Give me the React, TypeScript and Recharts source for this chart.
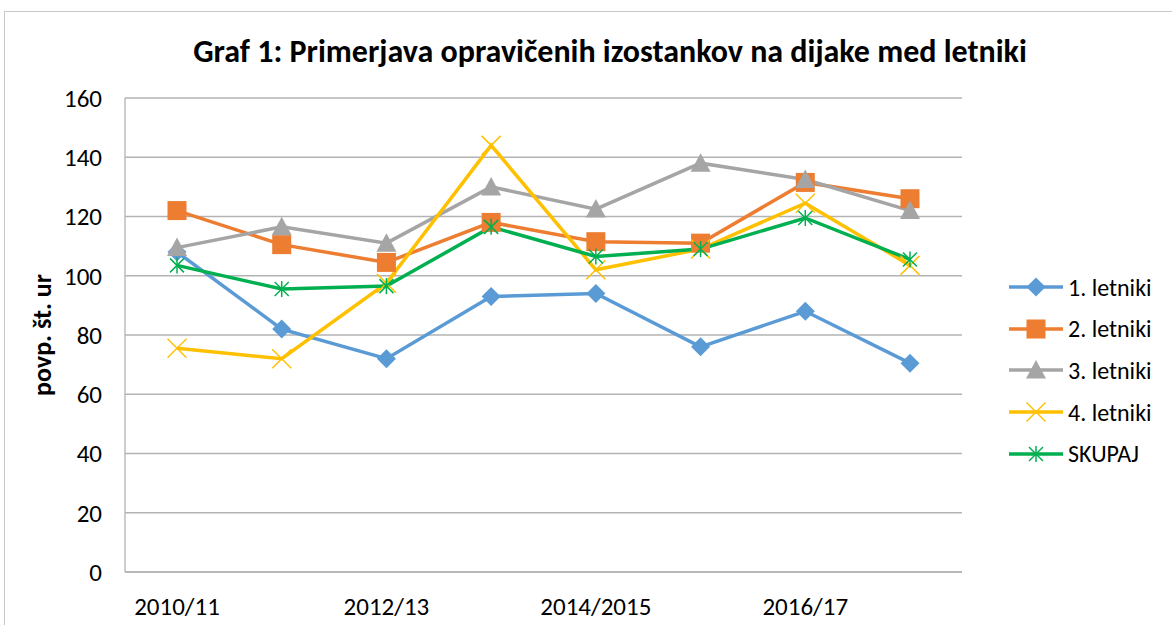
import React from "react";
import { LineChart, Line, XAxis, YAxis, CartesianGrid } from "recharts";

const categories = ["2010/11", "2011/12", "2012/13", "2013/14", "2014/2015", "2015/16", "2016/17", "2017/18"];
const letnik1 = [108, 82, 72, 93, 94, 76, 88, 70.5];
const letnik2 = [122, 110.5, 104.5, 118, 111.5, 111, 131.5, 126];
const letnik3 = [109.5, 116.5, 111, 130, 122.5, 138, 132.5, 122];
const letnik4 = [75.5, 72, 97.5, 144, 102, 109, 124.5, 103.5];
const skupaj = [103.5, 95.5, 96.5, 116.5, 106.5, 109, 119.5, 105.5];
const yTicks = [0, 20, 40, 60, 80, 100, 120, 140, 160];

const FONT = "Carlito, 'Liberation Sans Narrow', 'Liberation Sans', sans-serif";

const series = [
  { key: "l1", name: "1. letniki", color: "#5B9BD5", values: letnik1, marker: "diamond" },
  { key: "l2", name: "2. letniki", color: "#ED7D31", values: letnik2, marker: "square" },
  { key: "l3", name: "3. letniki", color: "#A5A5A5", values: letnik3, marker: "triangle" },
  { key: "l4", name: "4. letniki", color: "#FFC000", values: letnik4, marker: "x" },
  { key: "sk", name: "SKUPAJ", color: "#00B050", values: skupaj, marker: "star" },
];

const data = categories.map((c, i) => {
  const row: any = { cat: c };
  series.forEach((s) => (row[s.key] = s.values[i]));
  return row;
});

function Marker({ type, color, cx, cy }: { type: string; color: string; cx: number; cy: number }) {
  if (type === "diamond") {
    const r = 9.5;
    return <path d={`M${cx},${cy - r}L${cx + r},${cy}L${cx},${cy + r}L${cx - r},${cy}Z`} fill={color} />;
  }
  if (type === "square") {
    const r = 9.5;
    return <rect x={cx - r} y={cy - r} width={2 * r} height={2 * r} fill={color} />;
  }
  if (type === "triangle") {
    const r = 10;
    return <path d={`M${cx},${cy - r}L${cx + r},${cy + r * 0.85}L${cx - r},${cy + r * 0.85}Z`} fill={color} />;
  }
  if (type === "x") {
    const r = 9.5;
    return (
      <g stroke={color} strokeWidth={1.5}>
        <line x1={cx - r} y1={cy - r} x2={cx + r} y2={cy + r} />
        <line x1={cx - r} y1={cy + r} x2={cx + r} y2={cy - r} />
      </g>
    );
  }
  const r = 7;
  return (
    <g stroke={color} strokeWidth={1.5}>
      <line x1={cx - r} y1={cy - r} x2={cx + r} y2={cy + r} />
      <line x1={cx - r} y1={cy + r} x2={cx + r} y2={cy - r} />
      <line x1={cx} y1={cy - r - 1} x2={cx} y2={cy + r + 1} />
    </g>
  );
}

const YLabel = (props: any) => {
  const vb = props.viewBox || {};
  const x = 42;
  const y = vb.y + vb.height / 2;
  return (
    <text x={x} y={y} transform={`rotate(-90 ${x} ${y})`} textAnchor="middle" dominantBaseline="central"
      fontFamily={FONT} fontWeight="bold" fontSize={26} fill="#000">
      povp. št. ur
    </text>
  );
};

export default function App() {
  return (
    <div style={{ position: "absolute", left: 0, top: 0, width: 1172, height: 625, overflow: "hidden", background: "#fff" }}>
      <div style={{ position: "absolute", left: 4, top: 11, width: 1300, height: 800, border: "1px solid #c8c8c8" }} />
      <div style={{ position: "absolute", left: 0, top: 33, width: 1220, textAlign: "center", fontFamily: FONT, fontWeight: "bold", fontSize: 32, lineHeight: "38px", color: "#000" }}>
        Graf 1: Primerjava opravičenih izostankov na dijake med letniki
      </div>
      <div style={{ position: "absolute", left: 0, top: 0 }}>
        <LineChart width={1172} height={625} data={data} margin={{ top: 98, right: 210, bottom: 23, left: 25 }}>
          <CartesianGrid vertical={false} stroke="#b3b3b3" strokeWidth={1.3} />
          <XAxis dataKey="cat" interval={1} tickLine={false} axisLine={{ stroke: "#b3b3b3", strokeWidth: 1.3 }} height={30}
            padding={{ left: 52, right: 52 }}
            tick={{ fontFamily: FONT, fontSize: 25, fill: "#000" }} tickMargin={19} />
          <YAxis domain={[0, 160]} ticks={yTicks} width={100} tickLine={false} axisLine={{ stroke: "#b3b3b3", strokeWidth: 1.3 }}
            tick={{ fontFamily: FONT, fontSize: 25, fill: "#000" }} tickMargin={17} label={<YLabel />} />
          {series.map((s) => (
            <Line key={s.key} dataKey={s.key} name={s.name} stroke={s.color} strokeWidth={3.5} isAnimationActive={false}
              dot={(p: any) => <Marker key={`${s.key}-${p.index}`} type={s.marker} color={s.color} cx={p.cx} cy={p.cy} />}
              activeDot={false} />
          ))}
        </LineChart>
      </div>
      <div style={{ position: "absolute", left: 1008, top: 270 }}>
        {series.map((s, i) => (
          <div key={s.key} style={{ position: "absolute", left: 0, top: i * 41.7, height: 34, display: "flex", alignItems: "center", whiteSpace: "nowrap" }}>
            <svg width={56} height={24} style={{ marginRight: 4 }}>
              <line x1={1} y1={12} x2={55} y2={12} stroke={s.color} strokeWidth={3.5} />
              <Marker type={s.marker} color={s.color} cx={28} cy={12} />
            </svg>
            <span style={{ fontFamily: FONT, fontSize: 24, color: "#000" }}>{s.name}</span>
          </div>
        ))}
      </div>
    </div>
  );
}
